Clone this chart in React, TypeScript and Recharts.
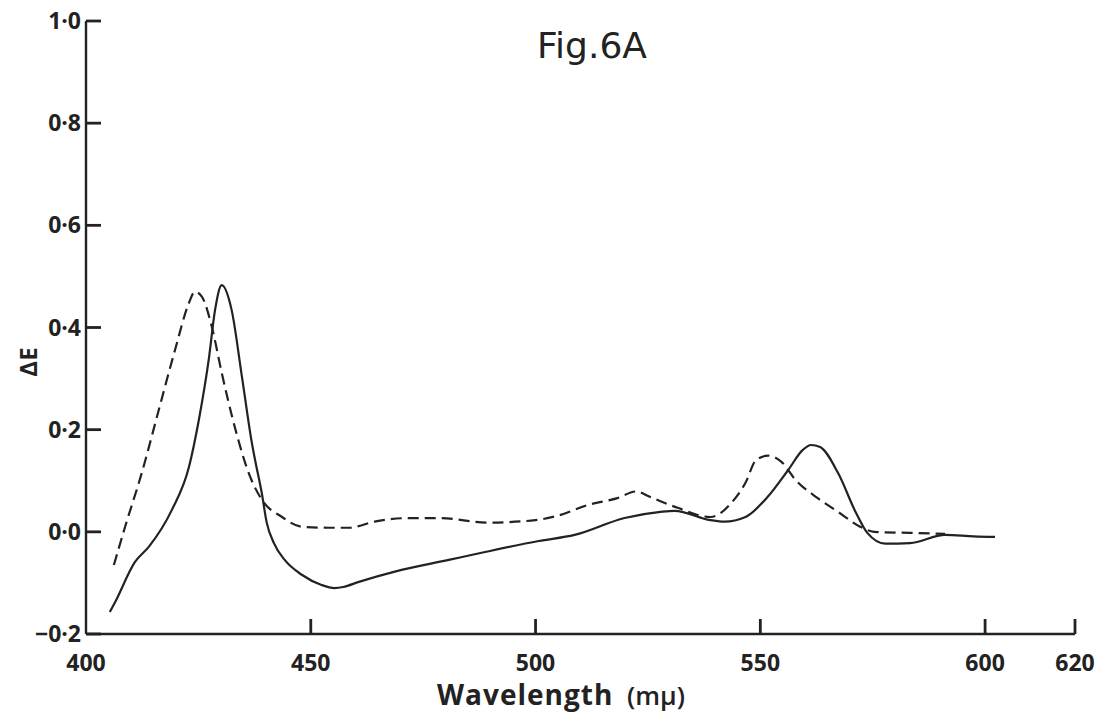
import { LineChart, Line, XAxis, YAxis } from 'recharts';

// Difference spectrum, solid trace
const solidWl = [405.3, 406.4, 410.9, 414, 419.1, 422.9, 425.1, 427.3, 428.7, 430.2, 432.4, 434.7, 436.9, 437.6, 439.1, 440.2, 441.8, 444.2, 448, 452.4, 455.3, 457.2, 460.7, 468.7, 480.7, 488, 500.7, 508.7, 519.8, 527.8, 530.9, 538.9, 542, 546.7, 551.6, 556.2, 559.4, 561.3, 563.3, 567.3, 571.3, 573.8, 577.8, 583.3, 591.1, 597.5, 602.2];
const solidDE = [-0.157, -0.139, -0.059, -0.029, 0.043, 0.127, 0.219, 0.337, 0.434, 0.483, 0.434, 0.303, 0.174, 0.141, 0.076, 0.018, -0.022, -0.055, -0.084, -0.104, -0.11, -0.108, -0.098, -0.078, -0.055, -0.041, -0.018, -0.006, 0.027, 0.039, 0.041, 0.023, 0.02, 0.029, 0.068, 0.121, 0.16, 0.17, 0.166, 0.115, 0.037, -0.002, -0.023, -0.022, -0.006, -0.009, -0.01];

// Dashed trace
const dashWl = [406.2, 408.7, 412.4, 416.2, 419.8, 422.9, 424.2, 425.8, 428, 430.2, 433.1, 436.2, 439.1, 443.6, 448, 454, 458.4, 464.2, 471.8, 478.4, 489.6, 500, 504.7, 511.8, 518.2, 522.4, 525.3, 531.6, 538.9, 543.6, 546.7, 549.1, 551.8, 554.7, 557.8, 562.6, 567.3, 572.2, 575.3, 583.3, 591.1];
const dashDE = [-0.065, 0.01, 0.115, 0.239, 0.356, 0.448, 0.47, 0.46, 0.401, 0.311, 0.205, 0.115, 0.063, 0.029, 0.01, 0.008, 0.008, 0.02, 0.027, 0.027, 0.018, 0.023, 0.031, 0.053, 0.066, 0.079, 0.069, 0.047, 0.029, 0.057, 0.096, 0.141, 0.149, 0.137, 0.102, 0.067, 0.039, 0.01, 0, -0.002, -0.004];

const xTicks = [400, 450, 500, 550, 600, 620];
const yTicks = [-0.2, 0, 0.2, 0.4, 0.6, 0.8, 1.0];

const solidData = solidWl.map((wl, i) => ({ wl, de: solidDE[i] }));
const dashData = dashWl.map((wl, i) => ({ wl, de: dashDE[i] }));

const INK = '#222';
const FONT = '"Open Sans", "DejaVu Sans", sans-serif';

const fmtY = (v: number) => v.toFixed(1).replace('.', '·').replace('-', '−');

// tick marks point into the plot, labels sit outside
function YTick({ x, y, payload }: any) {
  const px = Number(x);
  const py = Number(y);
  return (
    <g>
      <line x1={px} y1={py} x2={px + 15} y2={py} stroke={INK} strokeWidth={2.8} />
      <text x={px - 5} y={py} dy={8} textAnchor="end" fontFamily={FONT} fontWeight={700} fontSize={23} fill={INK}>
        {fmtY(payload.value)}
      </text>
    </g>
  );
}

function XTick({ x, y, payload }: any) {
  const px = Number(x);
  const py = Number(y);
  return (
    <g>
      {payload.value !== 400 && <line x1={px} y1={py} x2={px} y2={py - 15} stroke={INK} strokeWidth={2.8} />}
      <text x={px} y={py + 37} textAnchor="middle" fontFamily={FONT} fontWeight={700} fontSize={23} fill={INK}>
        {payload.value}
      </text>
    </g>
  );
}

export default function App() {
  return (
    <div style={{ position: 'absolute', left: 0, top: 0, width: 1116, height: 725, background: '#fff' }}>
      <LineChart width={1116} height={725} margin={{ top: 21, right: 41, bottom: 0, left: 0 }}>
        <XAxis
          type="number"
          dataKey="wl"
          domain={[400, 620]}
          ticks={xTicks}
          interval={0}
          height={91}
          tickSize={0}
          tickMargin={0}
          tick={<XTick />}
          axisLine={{ stroke: INK, strokeWidth: 2.4 }}
          allowDuplicatedCategory={false}
        />
        <YAxis
          type="number"
          domain={[-0.2, 1.0]}
          ticks={yTicks}
          interval={0}
          width={86}
          tickSize={0}
          tickMargin={0}
          tick={<YTick />}
          axisLine={{ stroke: INK, strokeWidth: 2.4 }}
        />
        <Line
          data={solidData}
          dataKey="de"
          type="monotone"
          stroke={INK}
          strokeWidth={2.2}
          dot={false}
          isAnimationActive={false}
        />
        <Line
          data={dashData}
          dataKey="de"
          type="monotone"
          stroke={INK}
          strokeWidth={2.2}
          strokeDasharray="11 6"
          dot={false}
          isAnimationActive={false}
        />
      </LineChart>
      <svg width={1116} height={725} style={{ position: 'absolute', left: 0, top: 0, pointerEvents: 'none' }}>
        <text x={592} y={58} textAnchor="middle" fontFamily='"DejaVu Sans", sans-serif' fontSize={36} fill={INK}>
          Fig.6A
        </text>
        <text
          x={0}
          y={0}
          transform="translate(37 362) rotate(-90)"
          textAnchor="middle"
          fontFamily={FONT}
          fontWeight={700}
          fontSize={24}
          fill={INK}
        >
          ΔE
        </text>
        <text x={437} y={705} fontFamily={FONT} fontWeight={700} fontSize={28} letterSpacing={1} fill={INK}>
          Wavelength
        </text>
        <text x={627} y={705} fontFamily={FONT} fontWeight={600} fontSize={26} fill={INK}>
          (mμ)
        </text>
      </svg>
    </div>
  );
}
